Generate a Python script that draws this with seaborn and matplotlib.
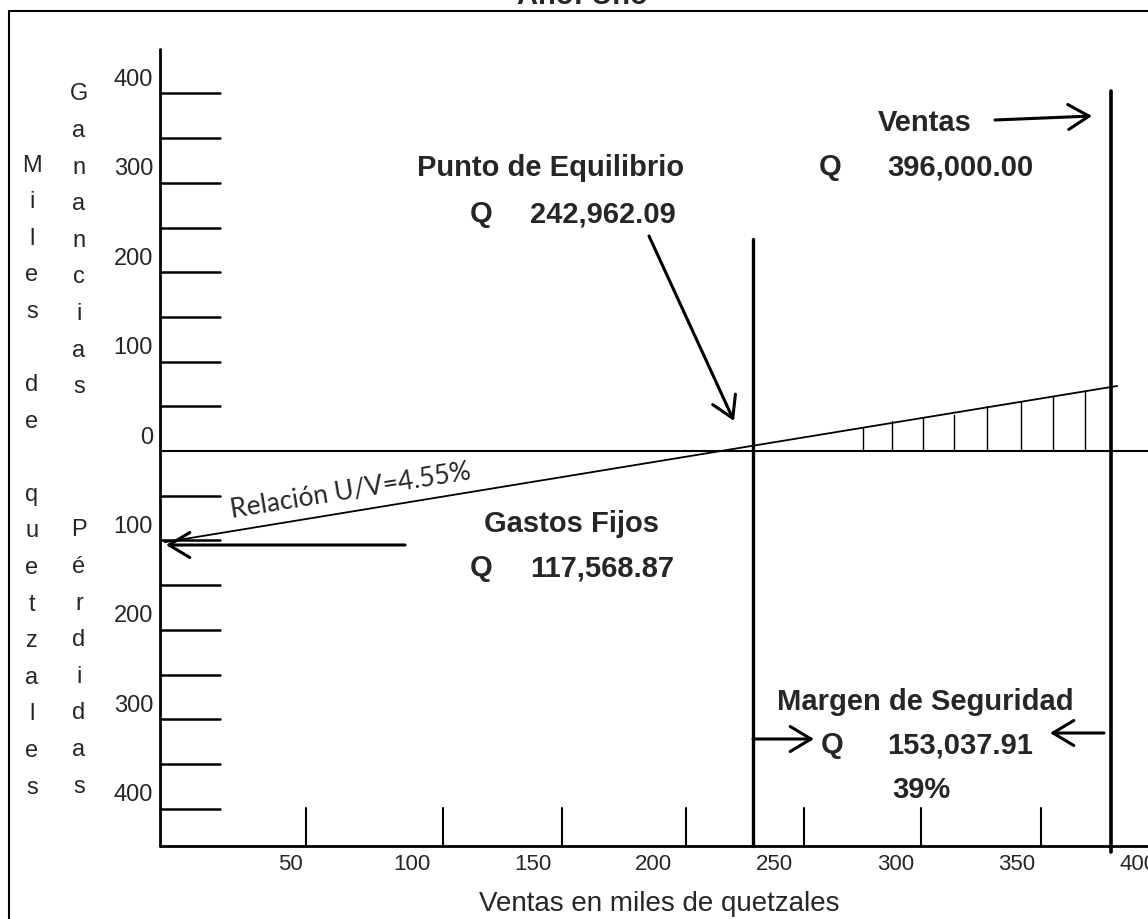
import numpy as np
import pandas as pd
import matplotlib
matplotlib.use("Agg")
import matplotlib.pyplot as plt
import matplotlib.transforms as mtransforms
from matplotlib.lines import Line2D
import seaborn as sns

# ---------------- data ----------------
x_ticks = [50, 100, 150, 200, 250, 300, 350, 400]          # x tick labels
x_marcas = [60.3, 116.9, 166.1, 217.4, 266.1, 314.5, 364.0]  # short vertical marks
y_ticks = [50, 100, 150, 200, 250, 300, 350, 400]           # short horizontal marks (both sides)
y_labels = [0, 100, 200, 300, 400]
punto_equilibrio_x = 245.0      # drawn break-even line
ventas_x = 393.0                # drawn sales line
utilidad_x = [2.0, 395.5]       # profit line (U/V)
utilidad_y = [-102.0, 72.7]
rayado_x = [290.5, 302.5, 315.3, 328.0, 341.7, 355.8, 369.0, 382.2]
rayado_y = [26.5, 33.2, 36.5, 40.3, 50.0, 55.1, 61.2, 66.8]
y_top, y_bottom = 450.0, -442.0

# ---------------- figure ----------------
sns.set_theme(style="white")
plt.rcParams["font.family"] = ["Liberation Sans", "DejaVu Sans"]

W, H = 1148, 920
fig = plt.figure(figsize=(W / 100, H / 100), dpi=100)
ax = fig.add_axes([0, 0, 1, 1])
ax.set_axis_off()
PX_X, PX_Y = 2.42, 0.894
x0_px, y0_px = 160, 452
ax.set_xlim((0 - x0_px) / PX_X, (W - x0_px) / PX_X)
ax.set_ylim((y0_px - H) / PX_Y, (y0_px - 0) / PX_Y)
xr = ax.get_xlim()[1]

def P(px, py):
    return (px - x0_px) / PX_X, (y0_px - py) / PX_Y

# pixel transform (top-left origin) for frame/title/side letters
T = mtransforms.Affine2D().scale(1 / W, -1 / H).translate(0, 1) + fig.transFigure

# outer frame
fig.add_artist(Line2D([9, 9], [12, H + 5], transform=T, color="black", lw=1.5))
fig.add_artist(Line2D([9, W + 5], [12, 12], transform=T, color="black", lw=1.5))
fig.text(582, 4, "Año: Uno", transform=T, ha="center", va="baseline",
         fontsize=21, fontweight="bold")

# axes lines
ax.plot([0, 0], [y_bottom, y_top], color="black", lw=2.0)
ax.plot([0, xr], [y_bottom, y_bottom], color="black", lw=2.0)
ax.plot([0, xr], [0, 0], color="black", lw=1.5)

tick_len = 60 / PX_X
for v in y_ticks:
    ax.plot([0, tick_len], [v, v], color="black", lw=1.8)
    ax.plot([0, tick_len], [-v, -v], color="black", lw=1.8)

mark_h = 38 / PX_Y
for v in x_marcas:
    ax.plot([v, v], [y_bottom, y_bottom + mark_h], color="black", lw=1.5)

# y labels
lab_x = (153 - x0_px) / PX_X
for v in y_labels:
    ax.text(lab_x, v + 19 - 9.5, f"{v}", ha="right", va="baseline", fontsize=17)
    if v > 0:
        ax.text(lab_x, -v + 19 - 9.5, f"{v}", ha="right", va="baseline", fontsize=17)

# x labels
for v in x_ticks:
    ax.text(v + 4, P(0, 870)[1], f"{v}", ha="center", va="baseline", fontsize=16)
ax.text(*P(659, 911), "Ventas en miles de quetzales", ha="center", va="baseline", fontsize=20)

# profit line with seaborn
df = pd.DataFrame({"x": utilidad_x, "y": utilidad_y})
sns.lineplot(data=df, x="x", y="y", ax=ax, color="black", lw=1.3, legend=False)
ax.set_axis_off()
ax.set_xlim((0 - x0_px) / PX_X, (W - x0_px) / PX_X)
ax.set_ylim((y0_px - H) / PX_Y, (y0_px - 0) / PX_Y)

# hatch
for xv, yv in zip(rayado_x, rayado_y):
    ax.plot([xv, xv], [0, yv], color="black", lw=1.0)

# break-even and sales lines
ax.plot([punto_equilibrio_x, punto_equilibrio_x], [P(0, 240)[1], y_bottom], color="black", lw=2.4)
ax.plot([ventas_x, ventas_x], [P(0, 92)[1], P(0, 853)[1]], color="black", lw=2.6)

# side letters
col1 = "Miles de quetzales"
col2a = "Ganancias"
col2b = "Pérdidas"
sp = 36.6
for i, ch in enumerate(col1):
    if ch != " ":
        fig.text(32, 171.5 + i * sp, ch, transform=T, ha="center", va="baseline", fontsize=17)
for i, ch in enumerate(col2a):
    fig.text(79, 100.5 + i * sp, ch, transform=T, ha="center", va="baseline", fontsize=17)
for i, ch in enumerate(col2b):
    fig.text(79, 536.5 + i * sp, ch, transform=T, ha="center", va="baseline", fontsize=17)

# annotations
bold = dict(fontsize=21, fontweight="bold", va="baseline")
ax.text(*P(417, 176.5), "Punto de Equilibrio", ha="left", **bold)
ax.text(*P(481, 222.5), "Q", ha="center", **bold)
ax.text(*P(530, 222.5), "242,962.09", ha="left", **bold)
ax.text(*P(878, 131.5), "Ventas", ha="left", **bold)
ax.text(*P(830, 175.5), "Q", ha="center", **bold)
ax.text(*P(887, 175.5), "396,000.00", ha="left", **bold)
ax.text(*P(484, 532.5), "Gastos Fijos", ha="left", **bold)
ax.text(*P(481, 576.5), "Q", ha="center", **bold)
ax.text(*P(530, 576.5), "117,568.87", ha="left", **bold)
ax.text(*P(777, 710.5), "Margen de Seguridad", ha="left", **bold)
ax.text(*P(832, 753.5), "Q", ha="center", **bold)
ax.text(*P(887, 753.5), "153,037.91", ha="left", **bold)
ax.text(*P(921, 798.5), "39%", ha="center", **bold)

ax.text(*P(232, 518), "Relación U/V=4.55%", ha="left", va="baseline", rotation=9.2,
        rotation_mode="anchor", fontsize=19, family=["Lato", "DejaVu Sans"])

arrow = dict(arrowstyle="->,head_length=0.75,head_width=0.45", lw=2.2, color="black",
             mutation_scale=20, shrinkA=0, shrinkB=0)
ax.annotate("", xy=P(734, 422), xytext=P(649, 237), arrowprops=arrow)
ax.annotate("", xy=P(1092, 117), xytext=P(995, 121), arrowprops=arrow)
ax.annotate("", xy=P(166, 546), xytext=P(405, 546), arrowprops=arrow)
ax.annotate("", xy=P(814, 740), xytext=P(753, 740), arrowprops=arrow)
ax.annotate("", xy=P(1050, 734), xytext=P(1104, 734), arrowprops=arrow)

fig.savefig("out.png", dpi=100)
